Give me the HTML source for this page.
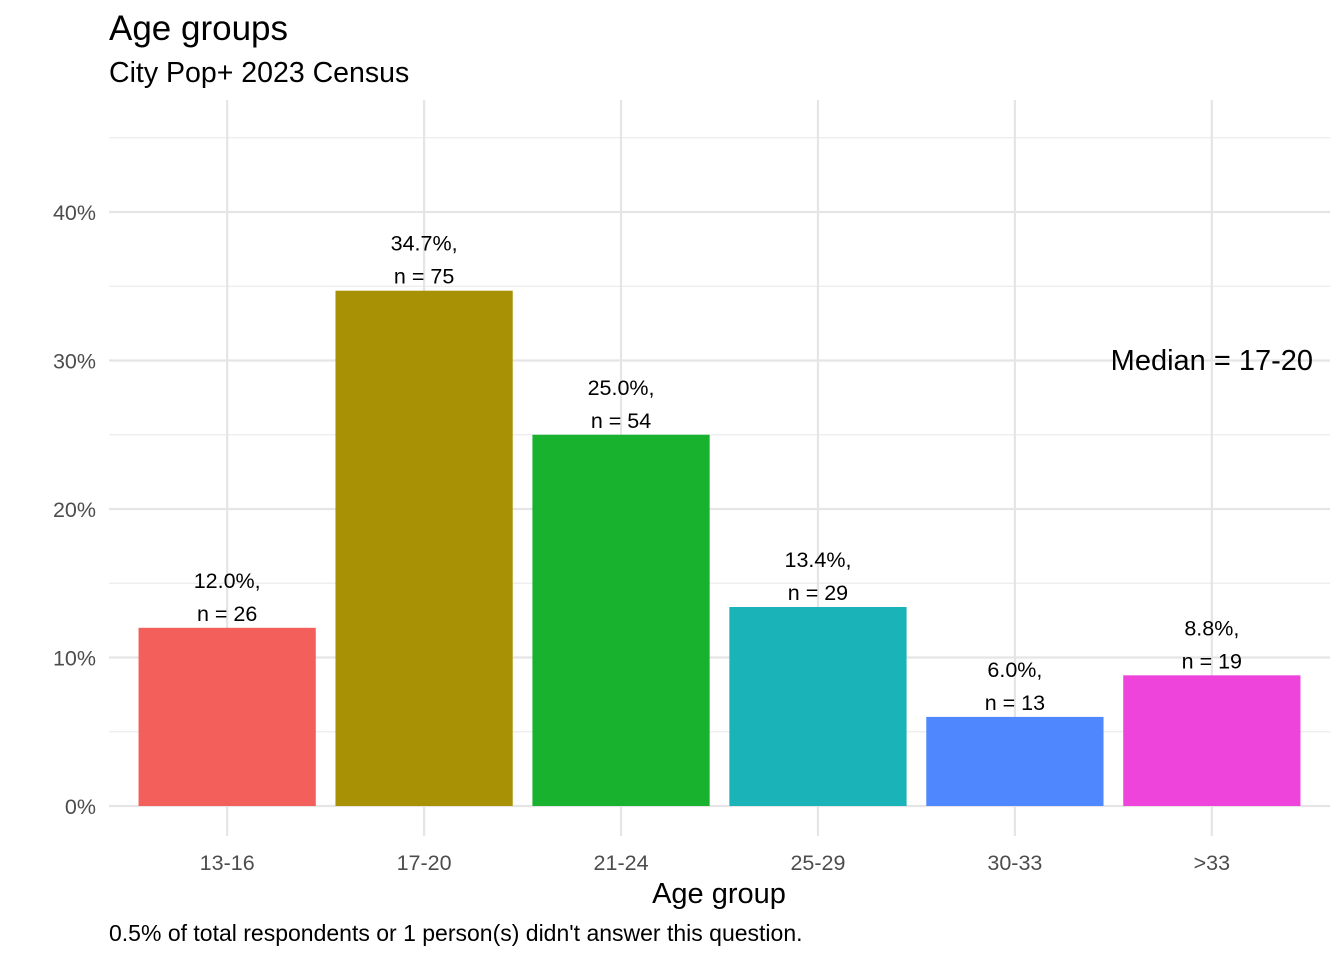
<!DOCTYPE html>
<html><head><meta charset="utf-8"><style>
body{margin:0;background:#fff;font-family:"Liberation Sans",Arial,sans-serif;}
svg{display:block}
</style></head><body>
<svg id="chart" width="1344" height="960">
<text x="109" y="40" font-size="35" fill="#000">Age groups</text>
<text x="109" y="82" font-size="28.5" fill="#000">City Pop+ 2023 Census</text>
<g id="grid"></g><g id="bars"></g><g id="labels"></g>
<text x="1313" y="370" font-size="29" text-anchor="end" fill="#000">Median = 17-20</text>
<text x="719" y="903" font-size="29" text-anchor="middle" fill="#000">Age group</text>
<text x="109" y="941" font-size="23" fill="#000">0.5% of total respondents or 1 person(s) didn't answer this question.</text>
</svg>
<script>
const categories=["13-16","17-20","21-24","25-29","30-33",">33"];
const pctValues=[12.0,34.7,25.0,13.4,6.0,8.8];
const counts=[26,75,54,29,13,19];
const colors=["#f35f5a","#a89104","#18b22e","#19b3b8","#4f88fe","#ef44dc"];
const yTicks=[0,10,20,30,40];
const ns="http://www.w3.org/2000/svg";
const panelLeft=109,panelRight=1330,panelTop=100,y0=806,pxPer=14.85;
const step=(panelRight-panelLeft)/(categories.length+0.2);
const xc=i=>panelLeft+step*(i+0.6);
const yPos=v=>y0-v*pxPer;
function mk(t,a,p){const e=document.createElementNS(ns,t);for(const k in a)e.setAttribute(k,a[k]);p.appendChild(e);return e;}
const g=document.getElementById('grid'),b=document.getElementById('bars'),l=document.getElementById('labels');
for(let v=5;v<=45;v+=10){const e=mk('line',{x1:panelLeft,x2:panelRight,y1:yPos(v),y2:yPos(v),stroke:'#ebebeb','stroke-width':1.2},g);

}
yTicks.forEach(v=>{const e=mk('line',{x1:panelLeft,x2:panelRight,y1:yPos(v),y2:yPos(v),stroke:'#e5e5e5','stroke-width':2.2},g);


const t=mk('text',{x:96,y:yPos(v)+8,'font-size':21.5,'text-anchor':'end',fill:'#4d4d4d'},g);t.textContent=v+'%';

});
categories.forEach((c,i)=>{
const gl=mk('line',{x1:xc(i),x2:xc(i),y1:panelTop,y2:y0+30,stroke:'#e5e5e5','stroke-width':2.2},g);


const w=step*0.9;
const r=mk('rect',{x:xc(i)-w/2,y:yPos(pctValues[i]),width:w,height:y0-yPos(pctValues[i]),fill:colors[i]},b);


const t1=mk('text',{x:xc(i),y:yPos(pctValues[i])-40,'font-size':21.5,'text-anchor':'middle',fill:'#000'},l);t1.textContent=pctValues[i].toFixed(1)+'%,';


const t2=mk('text',{x:xc(i),y:yPos(pctValues[i])-7,'font-size':21.5,'text-anchor':'middle',fill:'#000'},l);t2.textContent='n = '+counts[i];


const xt=mk('text',{x:xc(i),y:870,'font-size':21.5,'text-anchor':'middle',fill:'#4d4d4d'},l);xt.textContent=c;


});
</script>
</body></html>
